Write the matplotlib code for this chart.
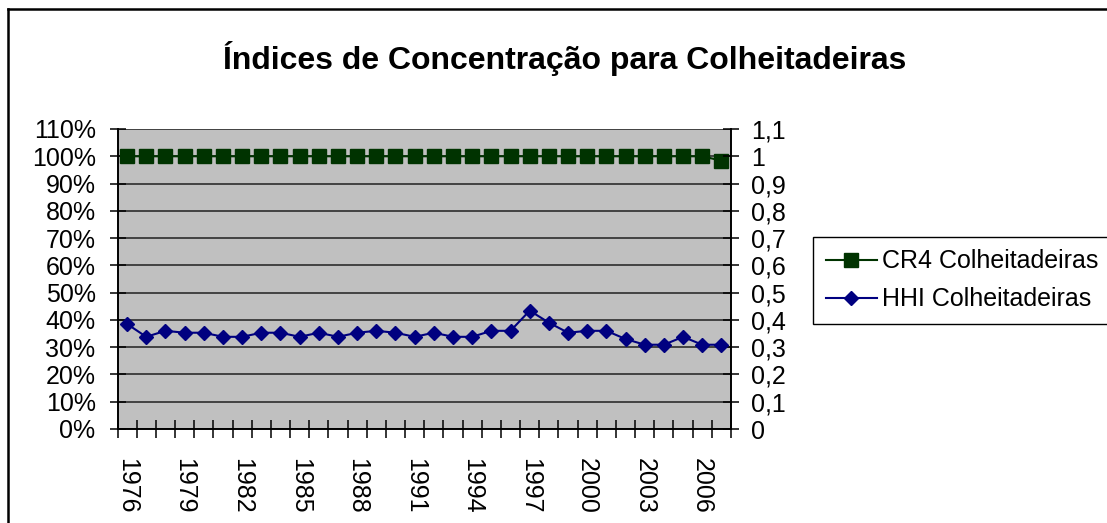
import matplotlib
matplotlib.use("Agg")
import matplotlib.pyplot as plt
from matplotlib.lines import Line2D
from matplotlib.ticker import FixedLocator

plt.rcParams['font.family'] = ['Liberation Sans', 'DejaVu Sans']

# ---- data ----
years = [1976, 1977, 1978, 1979, 1980, 1981, 1982, 1983, 1984, 1985, 1986,
         1987, 1988, 1989, 1990, 1991, 1992, 1993, 1994, 1995, 1996, 1997,
         1998, 1999, 2000, 2001, 2002, 2003, 2004, 2005, 2006, 2007]
cr4 = [1.0, 1.0, 1.0, 1.0, 1.0, 1.0, 1.0, 1.0, 1.0, 1.0, 1.0,
       1.0, 1.0, 1.0, 1.0, 1.0, 1.0, 1.0, 1.0, 1.0, 1.0, 1.0,
       1.0, 1.0, 1.0, 1.0, 1.0, 1.0, 1.0, 1.0, 1.0, 0.984]
hhi = [0.385, 0.338, 0.360, 0.353, 0.353, 0.338, 0.338, 0.353, 0.353, 0.338, 0.353,
       0.338, 0.353, 0.360, 0.353, 0.338, 0.353, 0.338, 0.338, 0.360, 0.360, 0.434,
       0.390, 0.353, 0.360, 0.360, 0.330, 0.309, 0.309, 0.338, 0.309, 0.309]
left_ticks = [0.0, 0.1, 0.2, 0.3, 0.4, 0.5, 0.6, 0.7, 0.8, 0.9, 1.0, 1.1]
left_labels = ['0%', '10%', '20%', '30%', '40%', '50%', '60%', '70%', '80%', '90%', '100%', '110%']
right_labels = ['0', '0,1', '0,2', '0,3', '0,4', '0,5', '0,6', '0,7', '0,8', '0,9', '1', '1,1']
title = 'Índices de Concentração para Colheitadeiras'
label_cr4 = 'CR4 Colheitadeiras'
label_hhi = 'HHI Colheitadeiras'

W, H = 1107, 523
FS = 18
fig = plt.figure(figsize=(W / 100, H / 100), dpi=100)
fig.patch.set_facecolor('white')

# outer frame (only top/left visible)
fig.add_artist(Line2D([8 / W, 8 / W], [0, 1 - 9 / H], transform=fig.transFigure,
                      color='black', lw=1.8))
fig.add_artist(Line2D([8 / W, 1], [1 - 9 / H, 1 - 9 / H], transform=fig.transFigure,
                      color='black', lw=1.8))

L, R, B, T = 117.5, 731, 429, 129
ax = fig.add_axes([L / W, 1 - B / H, (R - L) / W, (B - T) / H])
ax.set_facecolor('#C0C0C0')
x = list(range(len(years)))
ax.set_xlim(-0.5, len(years) - 0.5)
ax.set_ylim(0, 1.1)

ax.set_yticks(left_ticks)
ax.set_yticklabels(left_labels, fontsize=FS)
ax.yaxis.grid(True, color='#202020', lw=1.1)
ax.set_axisbelow(True)

ax.plot(x, cr4, color='#003300', lw=1.5, marker='s', ms=9.4,
        markerfacecolor='#003300', markeredgecolor='#003300', label=label_cr4,
        zorder=3, clip_on=False)

ax2 = ax.twinx()
ax2.set_ylim(0, 1.1)
ax2.set_yticks(left_ticks)
ax2.set_yticklabels(right_labels, fontsize=FS)
ax2.plot(x, hhi, color='#000080', lw=1.5, marker='D', ms=6.8,
         markerfacecolor='#000080', markeredgecolor='#000080', label=label_hhi,
         zorder=3)

for a in (ax, ax2):
    for s in ('left', 'right', 'bottom'):
        a.spines[s].set_color('black')
        a.spines[s].set_linewidth(1.2)
    a.spines['top'].set_visible(False)

ax.tick_params(axis='y', direction='inout', length=11.5, width=1.1, pad=10,
               colors='black')
ax2.tick_params(axis='y', direction='inout', length=11.5, width=1.1, pad=9,
                colors='black')

# x axis: labels at every third year, tick marks at category boundaries
lab_idx = list(range(0, len(years), 3))
ax.set_xticks(lab_idx)
ax.set_xticklabels([str(years[i]) for i in lab_idx], rotation=270, fontsize=FS,
                   ha='center', va='top')
ax.xaxis.set_minor_locator(FixedLocator([i - 0.5 for i in range(len(years) + 1)]))
ax.tick_params(axis='x', which='major', length=0, pad=21)
ax.tick_params(axis='x', which='minor', direction='inout', length=13, width=1.1,
               colors='black')

fig.text(565 / W, 1 - 58 / H, title, fontsize=23, fontweight='bold',
         ha='center', va='center')

h1, l1 = ax.get_legend_handles_labels()
h2, l2 = ax2.get_legend_handles_labels()
leg = fig.legend(h1 + h2, l1 + l2, loc='upper left',
                 bbox_to_anchor=(813 / W, 1 - 237 / H), bbox_transform=fig.transFigure,
                 fontsize=FS, frameon=True, fancybox=False, shadow=False,
                 edgecolor='black', framealpha=1, borderpad=0.5, labelspacing=0.55,
                 handlelength=2.05, handletextpad=0.2, borderaxespad=0)
leg.get_frame().set_linewidth(1.0)

fig.savefig('out.png', dpi=100)
